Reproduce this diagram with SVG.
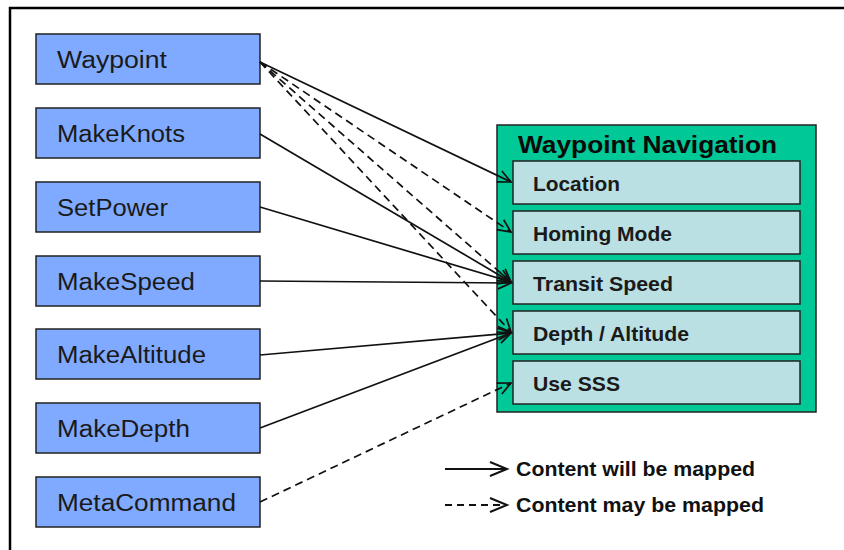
<svg xmlns="http://www.w3.org/2000/svg" width="844" height="550" viewBox="0 0 844 550">
<defs>
<marker id="ah" markerUnits="userSpaceOnUse" markerWidth="20" markerHeight="20" viewBox="-15 -10 20 20" refX="0" refY="0" orient="auto">
<path d="M-13,-6 L0,0 L-13,6" fill="none" stroke="#111" stroke-width="1.7"/>
</marker>
<marker id="ahL" markerUnits="userSpaceOnUse" markerWidth="24" markerHeight="24" viewBox="-20 -12 24 24" refX="0" refY="0" orient="auto">
<path d="M-17,-7 L0,0 L-17,7" fill="none" stroke="#111" stroke-width="2"/>
</marker>
<style>
.node rect{fill:#80AAFF;stroke:#222;stroke-width:1.5}
.node text{font-family:"Liberation Sans",Arial,sans-serif;font-size:23px;fill:#1a1a1a}
.sub rect{fill:#BAE0E3;stroke:#222;stroke-width:1.5}
.sub text{font-family:"Liberation Sans",Arial,sans-serif;font-size:21px;font-weight:bold;fill:#1a1a1a}
.c{fill:none;stroke:#111;stroke-width:1.7;marker-end:url(#ah)}
.d{stroke-dasharray:8 5}
.leg{font-family:"Liberation Sans",Arial,sans-serif;font-size:21px;font-weight:bold;fill:#111}
</style>
</defs>
<rect x="0" y="0" width="844" height="550" fill="#fff"/>
<path d="M9,8 H844 M10,7 V550" fill="none" stroke="#000" stroke-width="2.5"/>

<g id="n-waypoint" class="node"><rect x="36" y="34" width="224" height="50"/><text x="57" y="68" textLength="110" lengthAdjust="spacingAndGlyphs">Waypoint</text></g>
<g id="n-makeknots" class="node"><rect x="36" y="108" width="224" height="50"/><text x="57" y="142" textLength="128" lengthAdjust="spacingAndGlyphs">MakeKnots</text></g>
<g id="n-setpower" class="node"><rect x="36" y="182" width="224" height="50"/><text x="57" y="216" textLength="111" lengthAdjust="spacingAndGlyphs">SetPower</text></g>
<g id="n-makespeed" class="node"><rect x="36" y="256" width="224" height="50"/><text x="57" y="290" textLength="138" lengthAdjust="spacingAndGlyphs">MakeSpeed</text></g>
<g id="n-makealtitude" class="node"><rect x="36" y="329" width="224" height="50"/><text x="57" y="363" textLength="149" lengthAdjust="spacingAndGlyphs">MakeAltitude</text></g>
<g id="n-makedepth" class="node"><rect x="36" y="403" width="224" height="50"/><text x="57" y="437" textLength="133" lengthAdjust="spacingAndGlyphs">MakeDepth</text></g>
<g id="n-metacommand" class="node"><rect x="36" y="477" width="224" height="50"/><text x="57" y="511" textLength="179" lengthAdjust="spacingAndGlyphs">MetaCommand</text></g>

<g id="waypoint-navigation">
<rect x="497" y="125" width="319" height="287" fill="#00C896" stroke="#222" stroke-width="1.5"/>
<text x="518" y="153" font-family="'Liberation Sans',Arial,sans-serif" font-size="24" font-weight="bold" fill="#0a0a0a" textLength="259" lengthAdjust="spacingAndGlyphs">Waypoint Navigation</text>
</g>
<g id="s-location" class="sub"><rect x="513" y="161" width="287" height="43"/><text x="533" y="191" textLength="87" lengthAdjust="spacingAndGlyphs">Location</text></g>
<g id="s-homing" class="sub"><rect x="513" y="211" width="287" height="43"/><text x="533" y="241" textLength="139" lengthAdjust="spacingAndGlyphs">Homing Mode</text></g>
<g id="s-transit" class="sub"><rect x="513" y="261" width="287" height="43"/><text x="533" y="291" textLength="140" lengthAdjust="spacingAndGlyphs">Transit Speed</text></g>
<g id="s-depth" class="sub"><rect x="513" y="311" width="287" height="43"/><text x="533" y="341" textLength="156" lengthAdjust="spacingAndGlyphs">Depth / Altitude</text></g>
<g id="s-usesss" class="sub"><rect x="513" y="361" width="287" height="43"/><text x="533" y="391" textLength="87" lengthAdjust="spacingAndGlyphs">Use SSS</text></g>

<g id="connectors">
<line class="c" x1="260" y1="62" x2="511" y2="182"/>
<line class="c d" x1="260" y1="62" x2="511" y2="232"/>
<line class="c d" x1="260" y1="62" x2="511" y2="282"/>
<line class="c d" x1="260" y1="62" x2="511" y2="332"/>
<line class="c" x1="260" y1="134" x2="511" y2="282"/>
<line class="c" x1="260" y1="207" x2="511" y2="282"/>
<line class="c" x1="260" y1="281" x2="511" y2="283"/>
<line class="c" x1="260" y1="355" x2="511" y2="333"/>
<line class="c" x1="260" y1="428" x2="511" y2="333"/>
<line class="c d" x1="260" y1="502" x2="511" y2="383"/>
</g>

<g id="legend">
<line x1="445" y1="469" x2="507" y2="469" stroke="#111" stroke-width="1.8" marker-end="url(#ahL)"/>
<line x1="445" y1="505" x2="507" y2="505" stroke="#111" stroke-width="1.8" stroke-dasharray="7 5" marker-end="url(#ahL)"/>
<text class="leg" x="516" y="476" textLength="239" lengthAdjust="spacingAndGlyphs">Content will be mapped</text>
<text class="leg" x="516" y="512" textLength="248" lengthAdjust="spacingAndGlyphs">Content may be mapped</text>
</g>
</svg>
